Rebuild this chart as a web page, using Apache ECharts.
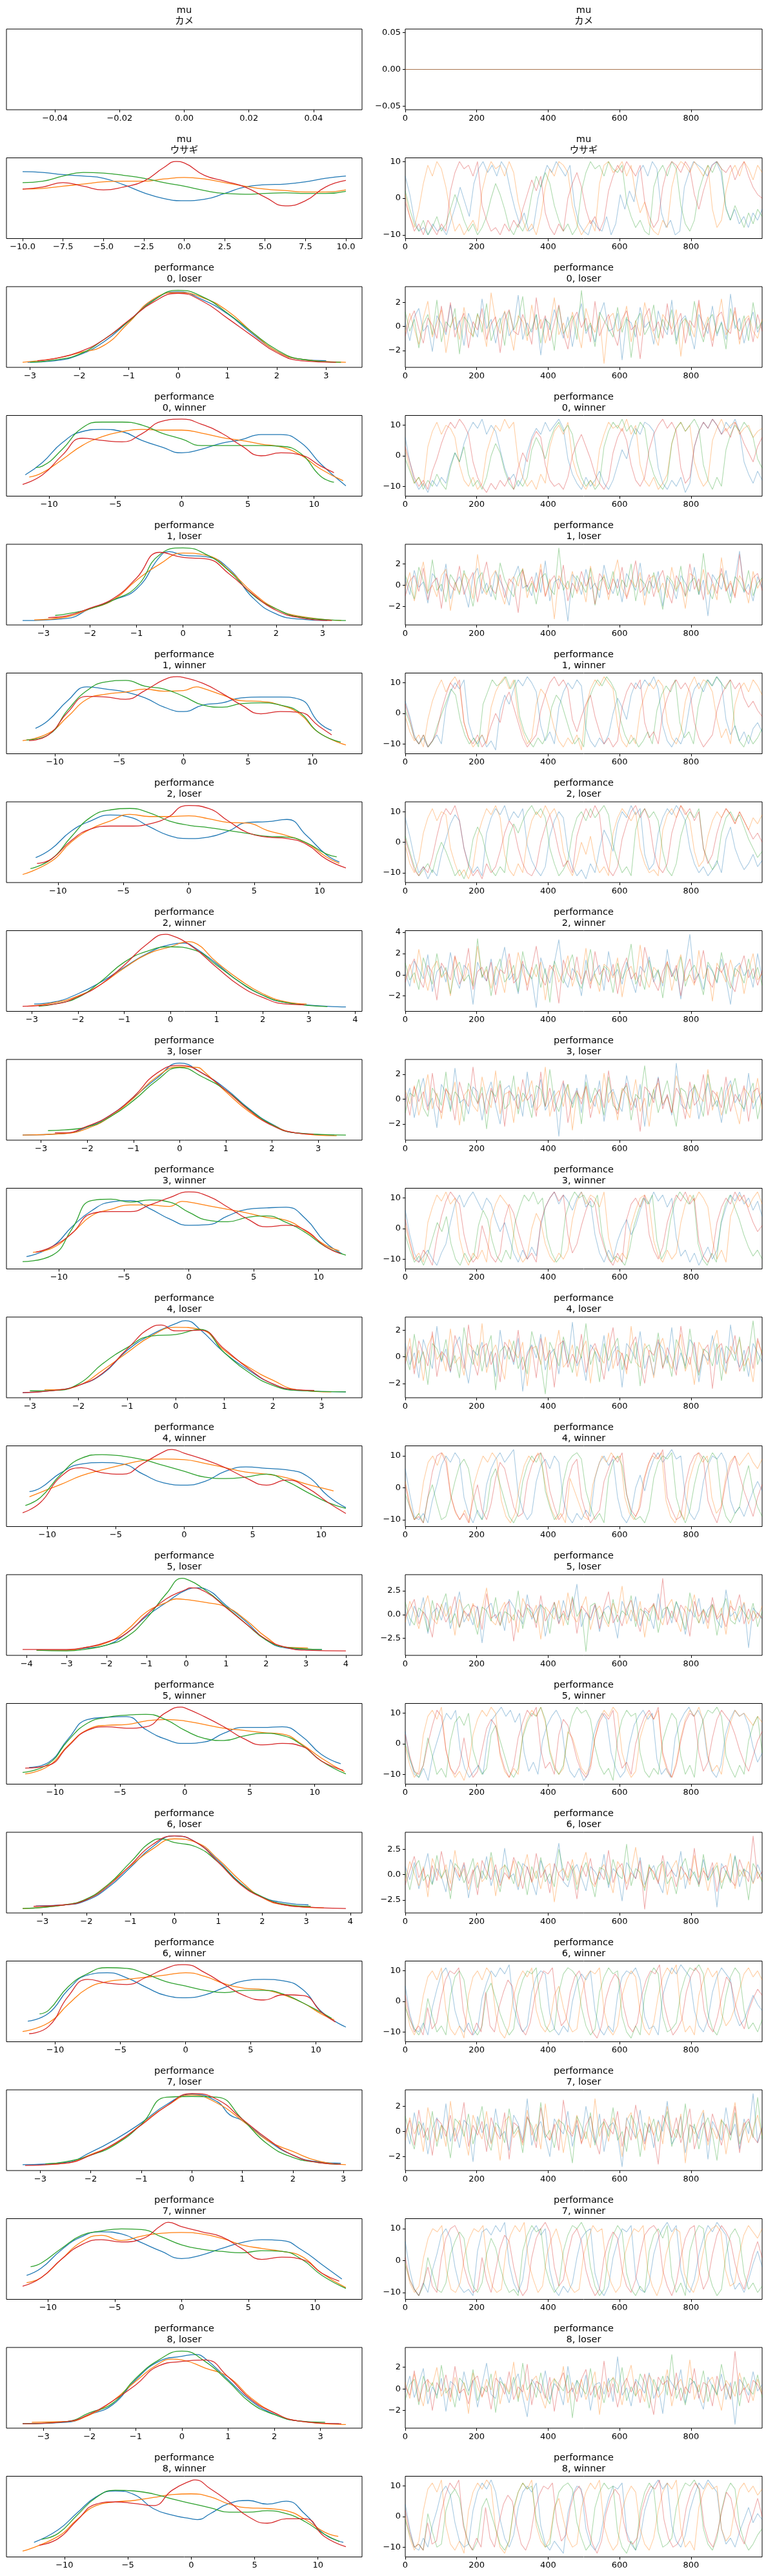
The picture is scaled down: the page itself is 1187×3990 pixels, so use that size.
<!DOCTYPE html>
<html>
<head>
<meta charset="utf-8">
<script src="https://cdn.jsdelivr.net/npm/echarts@6.0.0/dist/echarts.min.js"></script>
<style>body{margin:0;background:#fff;}</style>
</head>
<body>
<div id="main" style="width:1187px;height:3990px;"></div>
<script>
// ---------- row titles and tick labels ----------
var rowTitles = [
    ['mu', 'カメ'], ['mu', 'ウサギ'],
    ['performance', '0, loser'], ['performance', '0, winner'],
    ['performance', '1, loser'], ['performance', '1, winner'],
    ['performance', '2, loser'], ['performance', '2, winner'],
    ['performance', '3, loser'], ['performance', '3, winner'],
    ['performance', '4, loser'], ['performance', '4, winner'],
    ['performance', '5, loser'], ['performance', '5, winner'],
    ['performance', '6, loser'], ['performance', '6, winner'],
    ['performance', '7, loser'], ['performance', '7, winner'],
    ['performance', '8, loser'], ['performance', '8, winner']
];
var ticksN3 = [-3, -2, -1, 0, 1, 2, 3];
var ticksN10 = [-10, -5, 0, 5, 10];
var kdeTicks = [
    [-0.04, -0.02, 0, 0.02, 0.04], [-10, -7.5, -5, -2.5, 0, 2.5, 5, 7.5, 10],
    ticksN3, ticksN10, ticksN3, ticksN10, ticksN10, [-3, -2, -1, 0, 1, 2, 3, 4],
    ticksN3, ticksN10, ticksN3, ticksN10, [-4, -3, -2, -1, 0, 1, 2, 3, 4], ticksN10,
    [-3, -2, -1, 0, 1, 2, 3, 4], ticksN10, ticksN3, ticksN10, ticksN3, ticksN10
];
var kdeTickDigits = [2, 1, 0, 0, 0, 0, 0, 0, 0, 0, 0, 0, 0, 0, 0, 0, 0, 0, 0, 0];
var traceXTicks = [0, 200, 400, 600, 800];
var traceYTicks = [
    [-0.05, 0, 0.05], [-10, 0, 10], [-2, 0, 2], [-10, 0, 10], [-2, 0, 2], [-10, 0, 10],
    [-10, 0, 10], [-2, 0, 2, 4], [-2, 0, 2], [-10, 0, 10], [-2, 0, 2], [-10, 0, 10],
    [-2.5, 0, 2.5], [-10, 0, 10], [-2.5, 0, 2.5], [-10, 0, 10], [-2, 0, 2], [-10, 0, 10],
    [-2, 0, 2], [-10, 0, 10]
];
var traceYDigits = [2, 0, 0, 0, 0, 0, 0, 0, 0, 0, 0, 0, 1, 0, 1, 0, 0, 0, 0, 0];

// ---------- KDE curves: per chain [x, height, x, height, ...] (height relative, y axis unlabeled) ----------
var kdeMuUsagi = [
    [-10,.87,-8.75,.86,-7.5,.83,-6.25,.81,-5,.78,-3.75,.69,-2.5,.58,-1.25,.50,0,.47,1.25,.49,2.5,.57,3.75,.66,5,.69,6.25,.70,7.5,.73,8.75,.78,10,.81],
    [-10,.63,-8.75,.64,-7.5,.67,-6.25,.70,-5,.73,-3.75,.74,-2.5,.74,-1.25,.77,0,.79,1.25,.77,2.5,.72,3.75,.67,5,.63,6.25,.61,7.5,.59,8.75,.59,10,.62],
    [-10,.72,-8.75,.74,-7.5,.81,-6.25,.86,-5,.85,-3.75,.82,-2.5,.78,-1.25,.72,0,.67,1.25,.61,2.5,.57,3.75,.56,5,.57,6.25,.58,7.5,.57,8.75,.57,10,.60],
    [-10,.63,-8.75,.66,-7.5,.72,-6.25,.67,-5,.62,-3.75,.66,-2.5,.74,-1.25,.93,-.5,1.01,0,.99,1.25,.82,2.5,.74,3.75,.66,5,.52,6.25,.40,7.5,.47,8.75,.66,10,.75]
];
var kdeP0Loser = [
    [-3.05,.02,-2.5,.04,-2,.12,-1.5,.30,-1,.58,-.5,.87,0,.98,.5,.87,1,.68,1.5,.41,2,.17,2.5,.06,3.0,.04],
    [-3.15,.02,-2.5,.07,-2,.15,-1.5,.25,-1,.56,-.5,.88,0,.97,.5,.90,1,.72,1.5,.43,2,.17,2.5,.06,3.4,.02],
    [-3.0,.02,-2.5,.05,-2,.13,-1.5,.33,-1,.58,-.5,.86,0,1.0,.5,.91,1,.69,1.5,.43,2,.19,2.5,.06,3.3,.02],
    [-2.85,.04,-2.5,.07,-2,.16,-1.5,.33,-1,.59,-.5,.84,0,.96,.5,.85,1,.62,1.5,.38,2,.15,2.5,.04,3.2,.02]
];
var kdeP0Winner = [
    [-11.8,.24,-10.5,.41,-9,.68,-7.5,.83,-6,.86,-4.5,.83,-3,.71,-1.5,.62,0,.54,1.5,.59,3,.67,4.5,.72,6,.79,7.5,.79,9,.68,10.5,.39,12.4,.09],
    [-11.5,.21,-10.5,.27,-9,.45,-7.5,.64,-6,.76,-4.5,.83,-3,.86,-1.5,.85,0,.85,1.5,.81,3,.75,4.5,.71,6,.66,7.5,.62,9,.51,10.5,.32,12.2,.16],
    [-11,.34,-10.5,.36,-9,.59,-7.5,.88,-6,.96,-4.5,.96,-3,.92,-1.5,.81,0,.73,1.5,.64,3,.64,4.5,.64,6,.64,7.5,.63,9,.53,10.5,.22,11.5,.14],
    [-12,.11,-10.5,.24,-9,.51,-7.5,.74,-6,.71,-4.5,.69,-3,.80,-1.5,.97,0,1.0,1.5,.93,3,.81,4.5,.64,6,.50,7.5,.54,9,.51,10.5,.36,11.5,.27]
];
var kdeP1Loser = [
    [-3.45,.01,-2.5,.04,-2,.17,-1.5,.29,-1,.44,-.5,.88,-.3,.95,0,.90,.5,.88,1,.71,1.5,.32,2,.10,2.5,.03,3.1,.01],
    [-3.2,.02,-2.5,.06,-2,.17,-1.5,.29,-1,.56,-.5,.78,0,.93,.5,.90,1,.69,1.5,.39,2,.17,2.5,.07,3.4,.01],
    [-2.75,.08,-2.5,.10,-2,.17,-1.5,.29,-1,.47,-.5,.91,0,1.0,.5,.91,1,.68,1.5,.36,2,.17,2.5,.06,3.5,.01],
    [-2.9,.05,-2.5,.075,-2,.18,-1.5,.31,-1,.59,-.5,.94,0,.87,.5,.85,1,.64,1.5,.37,2,.15,2.5,.05,3.2,.01]
];
var kdeP1Winner = [
    [-11.5,.30,-10.5,.41,-9,.68,-7.5,.87,-6,.84,-4.5,.80,-3,.72,-1.5,.59,0,.53,1.5,.62,3,.65,4.5,.72,6,.73,7.5,.73,9,.70,10.5,.38,11.5,.27],
    [-12.5,.13,-10.5,.23,-9,.46,-7.5,.70,-6,.77,-4.5,.80,-3,.84,-1.5,.81,0,.82,1,.87,1.5,.85,3,.76,4.5,.68,6,.67,7.5,.62,9,.50,10.5,.24,12.6,.07],
    [-12.2,.14,-10.5,.21,-9,.55,-7.5,.82,-6,.94,-4.5,.96,-3,.88,-1.5,.84,0,.74,1.5,.62,3,.59,4.5,.64,6,.65,7.5,.62,9,.52,10.5,.24,12.2,.11],
    [-12,.13,-10.5,.21,-9,.52,-7.5,.74,-6,.73,-4.5,.70,-3,.82,-1.5,.97,-.5,1.01,0,1.0,1.5,.92,3,.78,4.5,.62,6,.50,7.5,.53,9,.52,10.5,.33,11.5,.21]
];
var kdeP2Loser = [
    [-11.7,.29,-10.5,.41,-9,.65,-7.5,.79,-6,.87,-4.5,.84,-3,.71,-1.5,.59,0,.55,1.5,.57,3,.65,4.5,.77,6,.78,7.5,.81,9,.59,10.5,.33,11.5,.23],
    [-12.7,.06,-10.5,.24,-9,.50,-7.5,.68,-6,.79,-4.5,.88,-3,.85,-1.5,.85,0,.86,1.5,.82,3,.77,4.5,.76,6,.66,7.5,.59,9,.49,10.5,.30,11.5,.21],
    [-12.1,.14,-10.5,.27,-9,.57,-7.5,.84,-6,.94,-4.5,.96,-3,.90,-1.5,.79,0,.73,1.5,.70,3,.66,4.5,.62,6,.58,7.5,.57,9,.49,10.5,.34,11.3,.30],
    [-11.6,.21,-10.5,.27,-9,.52,-7.5,.68,-6,.72,-4.5,.72,-3,.75,-1.5,.85,-.5,.99,0,1.0,1.5,.96,3,.79,4.5,.63,6,.57,7.5,.55,9,.47,10.5,.27,12,.15]
];
var kdeP2Winner = [
    [-2.95,.05,-2.5,.08,-2,.19,-1.5,.35,-1,.55,-.5,.74,0,.86,.3,.88,.5,.83,1,.60,1.5,.35,2,.17,2.5,.07,3.8,.01],
    [-3.1,.02,-2.5,.07,-2,.16,-1.5,.32,-1,.54,-.5,.73,0,.83,.4,.90,.5,.89,1,.62,1.5,.38,2,.19,2.5,.08,2.95,.05],
    [-2.85,.02,-2.5,.05,-2,.14,-1.5,.36,-1,.62,-.5,.77,0,.83,.5,.79,1,.58,1.5,.35,2,.17,2.5,.07,3.4,.015],
    [-3.2,.02,-2.5,.05,-2,.15,-1.5,.32,-1,.58,-.5,.87,-.1,1.0,0,.99,.5,.82,1,.55,1.5,.30,2,.14,2.5,.05,2.9,.04]
];
var kdeP3Loser = [
    [-3.4,.02,-2.5,.04,-2,.13,-1.5,.29,-1,.53,-.5,.79,0,1.0,.5,.86,1,.65,1.5,.38,2,.17,2.5,.05,3.35,.02],
    [-3.4,.02,-2.5,.04,-2,.11,-1.5,.27,-1,.52,-.5,.81,0,.95,.4,.94,.5,.90,1,.61,1.5,.34,2,.16,2.5,.05,3.4,.01],
    [-2.85,.08,-2.5,.09,-2,.13,-1.5,.27,-1,.49,-.5,.76,0,.94,.5,.81,1,.63,1.5,.37,2,.16,2.5,.05,3.6,.02],
    [-2.7,.05,-2.5,.05,-2,.14,-1.5,.29,-1,.54,-.5,.86,0,.97,.5,.86,1,.63,1.5,.36,2,.15,2.5,.05,2.9,.03]
];
var kdeP3Winner = [
    [-12.5,.12,-10.5,.26,-9,.53,-7.5,.75,-6,.87,-4.5,.89,-3,.78,-1.5,.64,0,.55,1.5,.56,3,.68,4.5,.77,6,.79,7.5,.80,9,.64,10.5,.32,11.8,.16],
    [-12,.18,-10.5,.24,-9,.44,-7.5,.68,-6,.77,-4.5,.83,-3,.83,-1.5,.81,-.5,.88,0,.87,1.5,.82,3,.77,4.5,.72,6,.66,7.5,.62,9,.47,10.5,.28,11.6,.20],
    [-12.8,.05,-10.5,.14,-9,.50,-7.5,.89,-6,.91,-4.5,.87,-3,.90,-1.5,.87,0,.73,1.5,.62,3,.60,4.5,.66,6,.68,7.5,.59,9,.45,10.5,.26,12.1,.14],
    [-11.8,.18,-10.5,.26,-9,.44,-7.5,.71,-6,.74,-4.5,.74,-3,.83,-1.5,.93,0,1.01,1.5,.95,3,.80,4.5,.64,6,.53,7.5,.55,9,.48,10.5,.26,11.7,.16]
];
var kdeP4Loser = [
    [-3.15,.02,-2.5,.05,-2,.12,-1.5,.28,-1,.60,-.5,.82,0,.97,.2,1.01,.5,.89,1,.57,1.5,.33,2,.14,2.5,.05,3.5,.03],
    [-2.7,.06,-2.5,.06,-2,.12,-1.5,.33,-1,.57,-.5,.80,0,.92,.5,.89,1,.60,1.5,.37,2,.19,2.5,.06,3.2,.03],
    [-3,.045,-2.5,.05,-2,.14,-1.5,.42,-1,.64,-.5,.80,0,.82,.5,.89,1,.57,1.5,.30,2,.12,2.5,.05,3.5,.03],
    [-3.15,.02,-2.5,.05,-2,.12,-1.5,.29,-1,.62,-.5,.92,-.3,.95,0,.87,.5,.88,1,.62,1.5,.35,2,.14,2.5,.06,2.85,.05]
];
var kdeP4Winner = [
    [-11.3,.43,-10.5,.48,-9,.69,-7.5,.81,-6,.83,-4.5,.81,-3,.67,-1.5,.55,0,.52,1.5,.57,3,.71,4.5,.77,6,.75,7.5,.73,9,.64,10.5,.37,11.8,.21],
    [-11.3,.36,-10.5,.42,-9,.53,-7.5,.65,-6,.73,-4.5,.80,-3,.86,-1.5,.88,0,.87,1.5,.82,3,.76,4.5,.70,6,.67,7.5,.62,9,.53,10.5,.46,10.9,.44],
    [-11.6,.24,-10.5,.35,-9,.67,-7.5,.89,-6,.94,-4.5,.92,-3,.87,-1.5,.79,0,.71,1.5,.63,3,.61,4.5,.63,6,.67,7.5,.57,9,.42,10.5,.28,11.8,.20],
    [-11.8,.14,-10.5,.28,-9,.64,-7.5,.76,-6,.69,-4.5,.67,-3,.82,-1.5,.98,-.9,1.01,0,.96,1.5,.87,3,.76,4.5,.62,6,.52,7.5,.59,9,.48,10.5,.28,11.8,.13]
];
var kdeP5Loser = [
    [-3.75,.02,-3,.02,-2.5,.05,-2,.09,-1.5,.25,-1,.48,-.5,.67,0,.84,.3,.87,.5,.85,1,.63,1.5,.41,2,.16,2.5,.05,3,.03,3.4,.03],
    [-3.75,.02,-3,.02,-2.5,.06,-2,.12,-1.5,.29,-1,.54,-.5,.67,-.25,.72,0,.71,.5,.67,1,.61,1.5,.43,2,.20,2.5,.06,3.05,.05],
    [-3.75,.02,-3,.01,-2.5,.035,-2,.09,-1.5,.20,-1,.45,-.5,.79,-.1,1.0,0,.99,.5,.83,1,.61,1.5,.38,2,.16,2.5,.06,3.4,.03],
    [-4.1,.03,-3,.03,-2.5,.06,-2,.13,-1.5,.25,-1,.50,-.5,.72,0,.85,.1,.87,.5,.81,1,.60,1.5,.38,2,.17,2.5,.06,3,.02,4,.01]
];
var kdeP5Winner = [
    [-12,.18,-10.5,.25,-9,.57,-7.5,.84,-6,.87,-4.5,.88,-3,.70,-1.5,.57,0,.51,1.5,.53,3,.65,4.5,.73,6,.73,7.5,.74,9,.61,10.5,.36,12,.23],
    [-12.3,.09,-10.5,.20,-9,.48,-7.5,.70,-6,.76,-4.5,.77,-3,.82,-1.5,.84,0,.82,1.5,.77,3,.72,4.5,.69,6,.66,7.5,.64,9,.50,10.5,.31,12.3,.12],
    [-12.5,.11,-10.5,.23,-9,.55,-7.5,.79,-6,.87,-4.5,.90,-3,.91,-1.5,.84,0,.69,1.5,.58,3,.55,4.5,.61,6,.65,7.5,.62,9,.49,10.5,.27,12.4,.09],
    [-12.3,.17,-10.5,.21,-9,.47,-7.5,.69,-6,.74,-4.5,.72,-3,.74,-1.5,.93,-.3,1.01,0,1.0,1.5,.88,3,.74,4.5,.58,6,.49,7.5,.51,9,.47,10.5,.27,12.2,.14]
];
var kdeP6Loser = [
    [-3.15,.045,-2.5,.06,-2,.12,-1.5,.30,-1,.57,-.5,.85,0,1.0,.5,.91,1,.66,1.5,.36,2,.17,2.5,.09,3.05,.06],
    [-3.45,.01,-2.5,.06,-2,.14,-1.5,.34,-1,.59,-.5,.82,0,.96,.5,.91,1,.68,1.5,.39,2,.16,2.5,.06,3.4,.02],
    [-3.45,.01,-2.5,.06,-2,.14,-1.5,.34,-1,.64,-.5,.93,-.3,.96,0,.91,.5,.85,1,.64,1.5,.35,2,.17,2.5,.07,3.1,.04],
    [-3.2,.04,-2.5,.06,-2,.13,-1.5,.32,-1,.60,-.5,.88,0,1.0,.5,.91,1,.64,1.5,.34,2,.16,2.5,.06,3,.03,3.9,.01]
];
var kdeP6Winner = [
    [-12.1,.23,-10.5,.34,-9,.66,-7.5,.86,-6,.89,-4.5,.82,-3,.69,-1.5,.58,0,.55,1.5,.59,3,.69,4.5,.78,6,.80,7.5,.78,9,.66,10.5,.35,12.3,.15],
    [-12.5,.09,-10.5,.21,-9,.46,-7.5,.68,-6,.77,-4.5,.80,-3,.83,-1.5,.86,0,.89,1.5,.84,3,.74,4.5,.68,6,.66,7.5,.59,9,.48,10.5,.32,11.4,.25],
    [-11.2,.33,-10.5,.38,-9,.70,-7.5,.88,-6,.96,-4.5,.95,-3,.87,-1.5,.77,0,.71,1.5,.65,3,.62,4.5,.65,6,.65,7.5,.60,9,.48,10.5,.34,11.2,.27],
    [-12,.06,-10.5,.16,-9,.57,-7.5,.80,-6,.75,-4.5,.73,-3,.83,-1.5,.95,-.3,1.0,0,1.0,1.5,.89,3,.73,4.5,.58,6,.52,7.5,.59,9,.58,10.5,.34,11.5,.22]
];
var kdeP7Loser = [
    [-3.35,.03,-2.5,.06,-2,.20,-1.5,.38,-1,.60,-.5,.85,0,.99,.5,.89,.75,.71,1,.63,1.5,.36,2,.16,2.5,.07,2.95,.05],
    [-2.85,.035,-2.5,.05,-2,.17,-1.5,.32,-1,.58,-.5,.83,0,.98,.5,.87,1,.63,1.5,.36,2,.21,2.5,.08,3.05,.03],
    [-2.9,.04,-2.5,.07,-2,.16,-1.5,.31,-1,.58,-.5,.95,0,.96,.5,.95,1,.65,1.5,.31,2,.13,2.5,.06,2.95,.035],
    [-3.3,.02,-2.5,.05,-2,.16,-1.5,.33,-1,.57,-.5,.83,0,1.0,.5,.92,1,.65,1.5,.38,2,.16,2.5,.06,2.95,.035]
];
var kdeP7Winner = [
    [-11.6,.28,-10.5,.38,-9,.63,-7.5,.81,-6,.88,-4.5,.85,-3,.73,-1.5,.61,0,.51,1.5,.56,3,.65,4.5,.73,6,.77,7.5,.76,9,.63,10.5,.43,12,.23],
    [-11.6,.18,-10.5,.25,-9,.50,-7.5,.74,-6,.83,-4.5,.76,-3,.82,-1.5,.86,0,.87,1.5,.85,3,.79,4.5,.70,6,.65,7.5,.61,9,.54,10.5,.31,12.3,.11],
    [-11.3,.40,-10.5,.45,-9,.65,-7.5,.83,-6,.89,-4.5,.92,-3,.91,-1.5,.81,0,.70,1.5,.64,3,.61,4.5,.59,6,.62,7.5,.61,9,.50,10.5,.28,12.3,.10],
    [-11.9,.13,-10.5,.25,-9,.50,-7.5,.70,-6,.77,-4.5,.74,-3,.78,-1.5,.97,-1,1.01,0,.95,1.5,.88,3,.81,4.5,.65,6,.50,7.5,.53,9,.50,10.5,.31,11.8,.20]
];
var kdeP8Loser = [
    [-3.45,.01,-2.5,.03,-2,.135,-1.5,.27,-1,.61,-.5,.86,0,.93,.3,.955,.5,.90,1,.61,1.5,.32,2,.14,2.5,.05,3.4,.01],
    [-3.25,.03,-2.5,.04,-2,.13,-1.5,.32,-1,.59,-.5,.83,-.2,.89,0,.88,.5,.77,1,.65,1.5,.36,2,.16,2.5,.05,3.55,.00],
    [-3.45,.01,-2.5,.04,-2,.16,-1.5,.29,-1,.63,-.5,.88,0,1.0,.5,.86,1,.59,1.5,.29,2,.135,2.5,.05,3.1,.03],
    [-3.45,.01,-2.5,.04,-2,.14,-1.5,.32,-1,.54,-.5,.80,0,.86,.5,.88,1,.65,1.5,.34,2,.16,2.5,.05,3.45,.01]
];
var kdeP8Winner = [
    [-12.4,.15,-10.5,.32,-9,.55,-7.5,.77,-6,.85,-4.5,.80,-3,.61,-1.5,.52,0,.47,.5,.46,1.5,.54,3,.68,4.5,.72,6,.67,7.5,.71,9,.53,10.5,.26,12,.15],
    [-13.3,.03,-10.5,.23,-9,.46,-7.5,.65,-6,.70,-4.5,.72,-3,.76,-1.5,.80,0,.81,1.5,.77,3,.67,4.5,.62,6,.61,7.5,.58,9,.46,10.5,.29,11.6,.23],
    [-11.8,.19,-10.5,.27,-9,.52,-7.5,.76,-6,.86,-4.5,.85,-3,.81,-1.5,.74,0,.68,1.5,.62,3,.56,4.5,.56,6,.58,7.5,.54,9,.43,10.5,.26,11.7,.16],
    [-12,.11,-10.5,.20,-9,.45,-7.5,.67,-6,.70,-4.5,.68,-3,.65,-1.5,.86,0,.99,.3,1.0,1.5,.88,3,.70,4.5,.50,6,.41,7.5,.47,9,.47,10.5,.23,12.2,.09]
];

// ---------- traces: per chain, values read at evenly spaced draws over 0..999 ----------
var traceMuKame = [[0, 0], [0, 0], [0, 0], [0, 0]];
var traceMuUsagi = [
    [6,1,-6,-9,-8,-10,-7,-9,-8,-10,-6,-2,3,-1,-5,4,8,10,7,9,6,10,8,2,-3,-7,-4,-9,-8,0,5,9,7,10,8,6,9,-2,-7,-9,-10,-6,-8,-9,-5,-10,-7,1,-3,2,-1,7,9,6,10,8,-4,-8,-6,-10,-9,3,7,10,9,8,6,9,10,7,-2,-6,-3,-7,-5,-8,-4,-6,-3],
    [1,-5,-8,-3,4,9,6,10,8,3,-4,-9,-7,-10,-8,-6,-9,2,7,10,8,9,6,10,7,-1,-6,-9,-7,-10,-5,3,8,6,10,9,7,-2,-7,-10,-8,-6,-9,4,9,10,7,8,10,6,9,1,-4,-1,-7,-9,-10,-6,-8,3,8,10,9,7,10,8,6,9,-3,-8,-6,2,7,9,6,10,8,5,9,7],
    [2,-3,-7,-9,-6,-10,-8,-5,-9,-7,-3,1,-2,-6,-9,-7,-10,-8,-5,0,4,1,-3,-8,-10,-7,-9,-6,1,6,3,7,4,-2,-6,-9,-7,-10,-8,2,7,10,8,9,6,10,8,7,9,-1,-5,-8,-6,-9,-10,3,7,9,6,10,8,-2,-7,-9,-6,2,6,9,7,10,8,-3,-6,-2,-5,-8,-4,-7,-3,-5],
    [-1,-5,-9,-7,-10,-6,-8,-10,-7,-9,2,7,10,8,9,6,10,-2,-6,-9,-8,-10,-7,-9,-6,-8,-3,1,5,2,6,-4,-8,-10,-7,-9,0,4,7,3,-3,-7,-5,-9,-6,2,6,9,7,10,8,6,9,-1,-5,-8,-6,3,8,10,9,7,10,8,1,-3,2,6,9,10,8,7,9,5,8,10,6,3,1,0]
];
var traceP0Loser = [
    [0.3,-1.2,0.8,1.5,-0.4,0.1,-2.1,0.9,0.2,-0.7,1.8,-0.3,0.5,-1.6,1.1,0.0,-0.9,2.3,-0.2,0.6,-1.4,0.4,1.2,-0.8,-0.1,2.6,-1.1,0.3,-0.5,1.0,-2.4,0.7,-0.3,1.4,0.2,-1.0,0.8,-1.7,0.5,1.9,-0.6,0.1,-1.3,0.9,2.0,-0.4,-0.2,1.1,-2.8,0.6,0.3,-0.9,1.6,-0.1,0.4,-1.5,1.3,0.0,-0.7,2.2,-1.2,0.5,0.9,-0.3,-1.9,1.0,0.2,-0.6,1.7,-0.8,0.4,-1.1,2.7,-0.2,0.7,-1.4,0.1,1.2,-0.5,0.3],
    [-0.5,1.1,-0.2,-1.5,0.7,2.1,-0.9,0.3,1.4,-2.2,0.0,0.8,-1.1,1.6,-0.4,-0.8,1.0,0.2,-1.7,2.8,0.5,-0.6,1.3,-0.1,-2.0,0.9,0.4,-1.2,1.8,-0.3,0.6,-1.4,0.1,2.4,-0.7,0.3,-1.0,1.2,-0.2,-1.8,1.5,0.2,-0.5,0.9,-3.1,0.7,1.1,-0.4,0.0,1.7,-1.3,0.5,-0.8,2.0,0.3,-0.6,-1.6,1.0,0.4,-0.2,1.4,-2.5,0.6,0.1,-0.9,1.9,-0.3,0.8,-1.2,0.2,2.3,-0.7,-0.1,1.3,-1.5,0.5,0.9,-0.4,-1.0,0.6],
    [1.2,-0.4,0.6,-1.8,0.2,1.0,-0.7,2.2,-1.3,0.4,-0.1,1.5,-2.3,0.8,0.3,-0.9,1.1,-0.5,1.9,-1.2,0.0,0.7,-1.6,1.3,-0.3,0.5,2.5,-0.8,-0.2,1.0,-1.4,0.6,0.2,-2.0,1.7,-0.6,0.1,0.9,-1.1,3.0,-0.4,0.3,-1.7,1.2,0.5,-0.2,-0.9,1.6,-0.5,0.8,-2.6,0.4,1.1,-0.7,0.0,1.8,-1.0,0.6,-0.3,1.4,-1.5,0.2,0.7,-0.8,2.1,-0.1,-1.3,0.5,1.0,-0.6,0.3,-1.9,1.5,0.1,-0.4,0.9,-1.2,2.0,-0.2,0.4],
    [-0.8,0.5,1.3,-0.2,-1.4,0.7,0.1,-1.0,1.7,-0.5,2.0,-0.9,0.3,1.1,-1.8,0.4,-0.3,1.5,-1.1,0.2,0.8,-2.2,0.6,1.4,-0.4,-0.7,1.0,0.0,-1.5,2.4,-0.2,0.9,-1.2,0.3,1.8,-0.6,-1.9,0.5,1.2,-0.1,0.7,-1.3,2.1,-0.8,0.2,1.0,-0.5,-1.6,0.6,1.3,-0.3,0.1,-2.7,0.8,1.5,-0.4,0.4,-1.0,1.9,-0.7,0.2,1.1,-1.4,0.5,-0.1,2.2,-0.9,0.3,-1.7,0.8,1.2,-0.2,-0.6,1.6,-1.1,0.0,0.7,-1.3,1.0,-0.4]
];
var traceP0Winner = [
    [6,-2,-8,-11,-9,-12,-8,-10,-7,-9,-3,1,-2,4,8,11,9,12,7,10,8,2,-4,-8,-6,-10,-7,1,6,9,7,11,8,10,12,9,-1,-6,-9,-11,-7,-10,-8,-5,-9,-11,-8,-3,2,-1,5,9,7,11,10,8,-4,-9,-11,-8,-10,-7,-12,-9,3,8,11,9,12,10,7,11,9,12,8,-2,-6,-9,-5,-8],
    [2,-4,-9,-7,-10,3,8,11,7,10,9,6,-3,-8,-10,-7,-11,-9,1,6,10,8,12,9,11,-2,-7,-10,-8,-11,-6,-9,3,8,10,7,11,-1,-6,-9,-11,-8,-10,2,7,11,9,10,8,12,7,10,-3,-8,-10,-7,-11,-9,-6,4,9,11,8,10,-2,-7,-10,-8,5,9,12,8,10,11,7,9,10,6,8,9],
    [-1,-5,-9,-7,-11,-8,-10,-6,-9,-11,-4,1,-2,3,-6,-10,-8,-11,-7,0,4,1,-5,-9,-11,-8,-10,-7,2,6,3,-1,5,9,11,8,10,7,-2,-7,-10,-8,-11,-9,3,8,11,9,12,8,10,7,11,9,-1,-6,-9,-11,-8,4,9,11,8,10,12,9,-3,-8,-11,-7,-10,2,7,10,8,11,9,6,-1,-4],
    [3,-2,-7,-10,-8,-11,-5,-1,4,8,11,9,12,10,7,-2,-7,-10,-12,-9,-11,-8,-10,-7,-11,-4,1,-2,5,8,6,-3,-8,-10,-9,-11,-7,0,4,7,3,-1,-6,-9,-11,-8,1,6,9,5,-3,-8,-10,-7,2,7,10,12,9,11,8,-4,-9,-7,3,8,11,9,12,10,7,9,6,11,8,4,1,-2,3,6]
];
var traceP1Loser = [
    [0.6,-0.9,1.4,-0.2,0.3,-1.7,1.1,0.5,-0.6,2.0,-1.3,0.1,0.8,-0.4,-2.1,0.9,1.6,-0.8,0.2,-1.1,1.3,0.4,-0.5,-1.9,0.7,1.8,-0.3,0.0,-1.0,1.2,-0.7,2.3,-1.5,0.3,0.6,-0.2,-3.4,1.0,0.5,-0.9,1.5,-0.4,0.2,-1.2,1.9,0.1,-0.8,0.6,-1.6,1.1,0.3,-0.5,2.1,-1.0,0.4,-0.3,1.3,-2.0,0.7,0.0,-1.3,0.9,0.2,-0.6,1.7,-0.9,0.5,-2.9,1.0,0.3,-0.4,1.4,-1.1,0.6,3.2,-0.7,0.1,-1.5,0.8,-0.2],
    [-0.3,1.2,-1.5,0.4,2.2,-0.6,0.0,-1.1,0.9,1.5,-2.4,0.3,-0.7,1.1,0.5,-1.3,2.9,-0.2,-0.9,0.7,1.4,-0.5,-1.8,0.2,0.8,-0.1,1.6,-1.2,0.4,-0.6,2.0,-1.0,0.6,-3.2,0.9,0.1,-0.4,1.3,-0.8,0.3,-1.6,1.8,0.0,-0.5,1.0,-1.4,0.7,2.4,-0.3,-1.1,0.5,-0.2,1.2,-1.9,0.6,0.9,-0.7,0.2,-1.2,1.7,-0.4,0.3,-2.2,1.1,0.8,-0.6,1.5,-0.9,0.1,-1.4,2.6,-0.5,0.4,-1.0,0.9,0.2,-1.7,1.3,-0.3,0.6],
    [0.9,-0.2,-1.3,1.7,0.4,-0.8,2.4,-0.5,0.1,-1.6,1.0,0.3,-0.9,1.4,-0.2,-2.0,0.6,1.2,-0.7,0.0,-1.4,2.1,0.5,-0.4,-1.1,0.8,1.5,-0.6,0.2,-1.8,0.7,1.1,-0.3,-0.9,3.5,-0.5,0.4,-1.2,0.9,0.1,-0.7,1.6,-1.9,0.3,0.8,-0.4,1.3,-1.0,0.5,-0.2,2.0,-1.5,0.6,0.1,-0.8,1.2,-0.3,-2.3,0.9,0.4,-0.6,1.8,-1.1,0.2,0.7,-0.9,3.0,-0.4,-1.3,0.5,1.1,-0.1,-1.7,0.8,0.3,-0.6,1.4,-1.0,0.2,0.7],
    [-1.0,0.4,0.9,-0.6,1.6,-1.4,0.2,0.7,-2.2,1.1,0.0,-0.5,1.8,-0.9,0.3,1.2,-1.6,0.5,2.2,-0.3,-0.8,1.0,-1.2,0.6,0.1,-2.6,1.4,-0.2,0.8,-0.7,1.5,-1.1,0.3,0.9,-0.4,1.9,-1.5,0.2,-0.6,1.3,-0.1,0.8,-1.8,1.1,0.4,-0.9,0.6,-0.3,1.7,-1.3,0.2,2.3,-0.7,-0.2,1.0,-1.1,0.5,1.4,-0.5,-1.7,0.9,0.1,-1.0,2.0,-0.4,0.6,-1.4,1.2,0.3,-0.8,1.6,-0.6,0.2,-1.2,2.9,-0.3,-0.9,0.7,1.1,-0.5]
];
var traceP1Winner = [
    [4,-1,-7,-10,-8,-11,-9,-7,-10,2,7,10,8,11,-3,-8,-10,-7,-11,-9,-12,1,6,3,8,11,9,12,10,7,-4,-9,-6,-10,2,7,10,8,11,9,-5,-9,-11,-8,-10,-7,0,5,2,-2,6,10,8,11,9,12,8,-4,-9,-11,-8,-10,-6,3,8,10,7,11,9,12,10,-2,-7,-4,-9,-6,-10,-5,-3,-6],
    [-1,-6,-9,-7,-11,-2,4,8,11,7,10,12,9,-3,-8,-11,-9,-7,-10,2,7,10,12,8,11,-1,-6,-10,-8,3,8,6,1,-5,-9,-11,-8,-10,-7,-12,2,8,11,9,12,10,8,-4,-9,-11,-7,-10,1,6,10,8,11,9,-3,-8,-10,-6,4,9,12,8,11,10,7,-2,-8,-5,-10,3,8,10,7,11,9,6],
    [1,-3,-8,-10,-7,-11,-9,-4,0,4,8,6,-2,-7,-10,-8,-11,3,7,11,9,10,12,8,11,-1,-6,-9,-11,-8,-10,-7,2,6,4,-1,-6,-10,-8,-11,4,8,11,9,12,10,7,-2,-7,-10,-8,-11,-9,-6,-10,1,6,9,7,11,-3,-8,-6,-10,2,8,11,9,12,10,8,11,-4,-9,-11,-7,-10,-8,-5],
    [3,-2,-8,-10,-7,-11,-9,-6,1,6,10,8,11,-3,-8,-10,-7,-11,-9,-4,0,-3,4,7,2,-3,-8,-11,-9,-7,1,6,10,12,9,11,8,-2,-6,-1,3,6,-1,-6,-10,-8,-11,-9,2,7,10,8,11,-3,-8,-6,-10,0,5,9,11,8,10,7,-3,-8,-11,-9,-7,1,6,9,11,8,10,5,2,4,1,-1]
];
var traceP2Loser = [
    [8,2,-5,-10,-8,-12,-9,-11,-4,1,6,9,7,-2,-7,-10,-8,-11,3,8,11,9,12,7,10,8,11,-1,-6,-9,-11,-8,2,7,10,8,-3,-8,-11,-9,-12,-7,-10,-2,4,1,-3,6,10,8,12,9,11,-4,-9,-7,3,8,11,9,12,10,7,-2,-7,-10,-8,-11,-9,-6,-10,1,5,-2,-6,-9,-7,-4,-8,-6],
    [-1,-7,-10,-6,3,8,11,7,10,9,-2,-7,-11,-9,-12,-8,2,7,11,9,12,8,-4,-9,-11,-7,-10,1,7,10,8,12,9,11,7,-3,-8,-11,-6,0,-4,2,-6,-10,-8,-11,3,8,11,9,7,10,-2,-7,-10,-9,-11,4,9,11,8,12,10,7,-3,-8,-6,2,7,10,8,11,9,6,10,7,4,8,6,9],
    [2,-3,-8,-11,-9,-7,-10,-4,0,-3,-7,-11,-9,-12,-8,1,5,2,-4,-9,-11,-8,-10,2,6,3,7,10,12,9,11,8,-2,-7,-11,-9,-6,3,8,10,7,11,8,10,12,9,-1,-6,-10,-8,-11,4,9,11,8,10,7,-3,-9,-11,-7,2,7,10,8,11,-2,-6,-9,-7,3,8,10,7,9,5,1,-2,-5,-3],
    [1,-4,-9,-11,-8,-10,-5,2,8,11,9,12,7,-2,-8,-11,-9,-12,-7,-10,-8,-3,3,7,5,-2,-7,-10,-11,-8,0,5,9,4,-3,-8,-6,-10,2,7,11,8,12,9,-4,-9,-11,-8,1,6,10,12,8,11,7,-3,-8,-10,-7,3,8,12,9,11,7,10,-2,-7,-4,3,8,11,9,6,10,7,4,1,3,0]
];
var traceP2Winner = [
    [0.2,-1.1,1.3,0.5,-0.4,1.9,-1.6,0.3,0.8,-0.7,2.1,-0.2,-1.3,0.9,0.4,-2.8,1.2,0.0,-0.6,1.5,-1.0,0.7,2.6,-0.5,0.1,-1.8,1.0,0.4,-0.3,-3.1,1.6,0.2,-0.8,1.1,3.3,-0.4,-1.2,0.6,0.0,-2.0,1.4,-0.6,0.3,0.9,-1.5,2.2,-0.1,0.5,-0.9,1.2,-0.3,-1.7,0.8,0.2,1.7,-0.7,0.4,-1.1,2.4,-0.2,0.6,-2.3,1.0,3.8,-0.5,0.1,-1.4,0.9,0.3,-0.8,1.5,-0.4,-2.8,0.7,1.1,-0.1,0.5,-1.2,2.0,-0.3],
    [-0.4,1.0,-0.8,2.4,0.1,-1.5,0.6,1.3,-0.3,0.2,-2.0,1.7,0.4,-0.6,1.1,-0.9,2.7,-0.2,0.5,-1.3,0.8,0.0,-1.7,1.4,-0.5,2.1,0.3,-1.0,0.7,-0.2,1.2,-2.4,0.5,0.9,-0.7,0.2,1.8,-1.1,0.4,-0.4,2.5,-0.9,0.1,-1.6,1.0,0.6,-0.3,1.6,-2.1,0.3,0.8,-0.5,2.8,-0.1,-1.2,0.7,0.2,-0.8,1.3,-1.5,0.5,1.9,-0.6,0.0,-1.0,2.3,-0.4,0.6,-2.5,1.1,0.3,-0.7,1.4,-0.2,0.9,-1.8,0.4,2.0,-0.5,0.1],
    [1.1,-0.5,0.2,-1.4,1.6,0.3,-0.9,2.0,-0.2,0.7,-1.8,0.5,1.2,-0.6,0.0,-1.1,3.4,-0.3,0.8,-2.0,0.4,1.5,-0.7,-0.1,0.9,-1.6,2.2,0.2,-0.4,1.0,-1.2,0.6,-2.6,1.3,0.1,-0.8,0.7,1.9,-0.5,-1.3,0.3,2.4,-0.2,-1.0,0.8,0.4,-1.7,1.1,-0.4,0.6,2.9,-0.9,0.0,-1.4,1.4,-0.3,0.5,-2.2,1.0,0.2,-0.6,1.7,-1.1,0.3,0.9,-0.2,-1.9,1.2,0.4,-0.7,2.1,-0.1,-1.3,0.6,0.2,-0.8,1.5,-0.4,0.7,-1.0],
    [-0.7,0.6,1.5,-0.3,-1.2,0.9,0.2,-2.4,1.1,0.4,-0.5,1.8,-0.9,0.0,2.5,-1.4,0.3,0.7,-0.6,1.2,-1.9,0.5,0.1,2.0,-0.8,-0.3,1.3,-1.5,0.6,2.7,-0.2,-1.0,0.9,0.3,-2.7,1.4,0.1,-0.5,1.7,-0.9,0.4,-1.3,2.2,0.0,0.6,-0.7,1.0,-1.8,0.5,1.6,-0.4,0.2,-1.1,2.6,0.8,-0.6,-1.5,0.3,1.2,-0.2,0.9,-2.0,0.4,1.5,-0.8,0.1,2.3,-0.5,-1.2,0.7,0.2,1.1,-0.9,-1.6,0.5,1.8,-0.3,0.6,-1.0,0.4]
];
var traceP3Loser = [
    [-0.2,0.9,-1.5,0.4,1.7,-0.6,0.1,-2.3,1.2,0.5,-0.8,2.5,-0.3,0.0,-1.2,1.0,0.6,-1.7,0.3,1.4,-0.5,-2.0,0.8,1.1,-0.1,0.4,-1.4,2.2,-0.7,0.2,1.6,-0.9,-0.2,0.7,-3.0,1.3,0.3,-0.4,0.9,-1.1,2.0,0.1,-0.6,1.5,-1.8,0.4,0.8,-0.3,-1.0,1.9,0.2,-0.7,1.2,-2.2,0.5,0.0,1.8,-0.5,0.3,-1.3,2.9,-0.4,-0.8,0.6,1.0,-1.6,0.2,1.3,-0.6,-0.1,-1.9,0.7,1.5,-0.3,0.4,-1.0,2.1,-0.8,0.1,0.6],
    [0.7,-0.4,1.1,-1.3,0.2,2.0,-0.8,0.5,-1.6,0.9,-0.1,1.4,-2.1,0.3,0.8,-0.5,-1.0,1.8,0.1,-0.7,2.3,-1.2,0.4,0.6,-1.9,1.0,-0.2,0.3,1.5,-0.9,-0.4,2.6,-1.4,0.2,0.7,-0.6,1.2,-2.5,0.5,0.0,1.0,-0.8,0.3,-1.2,2.1,-0.3,0.6,-1.7,0.9,0.4,-0.5,1.6,-1.0,0.1,-2.2,0.8,1.3,-0.4,0.2,-1.1,1.9,0.5,-0.7,-1.5,1.1,0.3,-0.2,2.4,-0.9,0.6,-1.3,0.0,1.2,-0.6,-2.0,0.9,0.4,-0.3,1.7,-0.8],
    [-1.1,0.5,0.2,1.6,-0.7,-1.4,0.9,0.3,-0.5,2.2,-1.0,0.6,0.1,-1.8,1.3,0.4,-0.3,1.0,-2.4,0.7,0.2,1.5,-0.8,-0.4,1.9,-1.2,0.5,0.0,-1.5,1.1,0.8,-0.6,2.4,-0.2,-1.0,0.3,1.2,-0.7,0.6,-2.0,1.4,-0.3,0.9,0.2,-1.3,1.8,-0.5,-0.9,0.7,1.1,-1.7,0.4,0.0,2.7,-0.6,0.8,-1.1,0.3,1.5,-0.4,-2.2,0.9,0.6,-0.8,1.2,-0.1,-1.4,2.0,0.3,-0.6,1.0,-1.2,0.5,1.7,-0.3,-0.8,0.4,1.3,-1.6,0.2],
    [0.4,-1.3,1.0,-0.2,0.6,-0.9,2.1,-0.5,-1.1,0.8,0.3,-1.7,1.4,0.1,-0.6,2.6,-0.4,0.5,-1.2,0.9,-0.3,1.2,-2.2,0.7,0.2,-0.8,1.6,-0.1,0.4,-1.4,2.2,-0.6,0.9,-1.0,0.3,1.5,-1.9,0.0,0.7,-0.4,1.1,-1.5,0.2,0.8,-0.7,2.3,-0.2,-1.2,0.5,1.3,-0.9,0.1,-2.6,1.0,0.6,-0.3,1.7,-0.8,0.4,-1.1,0.9,0.2,-1.6,1.4,-0.5,0.0,2.0,-1.3,0.7,0.3,-0.7,1.8,-1.0,0.4,-0.2,1.1,-1.8,0.6,0.9,-0.4]
];
var traceP3Winner = [
    [6,-2,-8,-11,-9,-7,-10,-12,-8,-5,2,8,11,7,10,12,9,6,10,8,3,-1,2,-3,-8,-11,-7,-10,-6,-9,1,7,10,12,8,11,9,6,10,12,7,9,-2,-8,-11,-7,-10,-4,0,3,-2,1,6,10,8,12,9,11,7,10,-3,-9,-7,-11,-8,-12,-9,-6,-10,-7,2,7,11,9,12,8,10,6,9,4],
    [1,-5,-10,-8,-11,2,7,11,9,12,8,10,-3,-9,-12,-8,-10,-7,-11,3,8,11,9,7,-2,-8,-11,-9,0,5,2,-5,-9,-11,-8,-10,-7,3,9,12,8,11,10,7,12,-3,-9,-11,-8,-10,1,6,10,11,8,-4,-9,-11,-7,-10,-8,2,8,11,9,12,10,7,-4,-10,-7,-11,4,8,11,9,7,10,12,8],
    [-2,-7,-11,-9,-12,-8,-3,2,-1,4,-5,-10,-12,-8,-11,-9,1,6,3,-4,-9,-11,-7,-10,2,7,11,9,12,8,10,-3,-8,-11,-9,4,9,12,10,11,8,7,11,-2,-8,-11,-9,-10,-12,-7,1,6,10,8,11,-4,-10,-7,3,9,12,10,8,11,-5,-10,-12,-8,-11,2,8,11,7,3,-2,-6,-9,-7,-10],
    [3,-4,-10,-11,-7,-9,-12,-3,4,9,12,10,8,-2,-8,-11,-9,1,-4,-9,-11,-8,3,8,5,-1,-6,-10,-8,-11,2,7,10,12,9,11,-2,-8,-5,1,6,10,8,-1,-6,-10,-12,-8,-11,3,8,10,7,11,-2,-7,-10,-6,2,7,11,9,12,8,10,-4,-9,-11,-8,2,7,10,8,12,9,11,6,2,-1,1]
];
var traceP4Loser = [
    [1.0,-0.6,0.3,-1.6,1.3,0.2,-0.9,2.3,-0.4,0.6,-1.2,0.8,1.5,-0.3,-2.0,0.5,0.1,1.1,-0.8,0.4,-1.5,2.0,-0.2,0.7,-0.6,1.4,-2.6,0.3,0.9,-0.1,1.7,-1.0,0.2,0.6,-1.3,1.2,-0.5,2.6,-0.7,0.0,-1.8,0.9,0.4,-0.4,1.6,-1.1,0.3,0.8,-2.3,1.0,0.5,-0.2,1.9,-0.9,0.1,-1.4,1.1,0.6,-0.5,2.2,-1.0,0.3,-0.7,1.3,0.8,-1.9,0.2,-0.3,1.6,-0.6,0.7,-1.2,2.4,0.1,-0.8,0.5,-1.5,1.0,0.3,-0.4],
    [-0.3,1.4,-0.9,0.5,-1.8,0.8,1.6,-0.2,0.3,-1.1,2.1,-0.5,0.0,-1.4,1.0,0.6,-0.7,2.5,-1.2,0.2,0.9,-0.4,-1.7,1.3,0.4,-0.1,1.1,-2.2,0.6,0.8,-0.6,1.5,-1.0,0.3,2.0,-0.8,-0.3,0.9,-1.5,0.4,1.2,-2.0,0.7,0.1,-0.5,1.8,-0.9,0.5,0.2,-1.3,2.3,-0.4,-0.8,1.0,0.3,-1.6,0.6,1.4,-0.2,-0.9,0.5,1.7,-1.1,0.0,-2.1,1.1,0.4,-0.6,0.9,2.0,-0.5,-1.3,0.8,0.2,1.3,-0.7,-0.1,-1.9,1.2,0.3],
    [0.2,-1.0,1.7,-0.5,0.4,-2.1,1.0,0.6,-0.3,1.3,-0.8,0.1,-1.6,2.2,0.3,-0.6,0.9,-1.1,0.5,1.6,-2.5,0.4,0.8,-0.2,1.2,-0.9,0.0,-1.3,1.9,0.6,-0.4,-2.8,1.1,0.3,-0.7,1.5,0.2,-1.2,0.8,-0.1,2.5,-0.6,0.4,-1.9,1.0,-0.3,0.7,1.4,-1.0,0.2,-0.5,1.1,-2.2,0.6,0.9,-0.4,1.8,-0.8,0.1,-1.5,1.3,0.5,-0.9,2.1,-0.2,-1.4,0.6,0.3,-0.7,1.0,-1.8,0.8,0.4,-0.3,1.5,-1.1,0.2,2.7,-0.6,0.5],
    [-0.5,0.8,-1.3,1.2,0.2,-0.7,1.9,-1.5,0.4,0.0,-1.1,1.6,0.5,-0.9,2.4,-0.2,-1.4,0.7,1.0,-0.6,0.3,-1.9,1.1,0.6,-0.4,2.0,-1.0,0.1,0.8,-1.6,1.4,-0.3,0.5,-2.3,0.9,1.2,-0.8,0.2,-0.5,1.7,-1.2,0.4,1.0,-0.1,-1.7,0.6,2.2,-0.7,0.3,-1.0,0.8,1.5,-0.4,-2.0,0.5,0.1,1.3,-0.9,0.7,-0.2,-1.4,2.3,0.2,-0.6,1.1,-1.2,0.4,0.9,-2.4,0.6,1.0,-0.5,0.2,1.6,-1.1,-0.3,0.8,-0.9,1.4,0.1]
];
var traceP4Winner = [
    [6,-2,-9,-10,-8,-11,-4,1,7,10,8,11,9,-3,-8,-11,-7,-10,1,6,9,11,8,10,12,-2,-7,-10,-8,2,7,9,6,10,8,-4,-9,-11,-8,-10,-7,-9,3,8,10,7,9,-3,-9,-11,-8,0,4,-1,5,9,11,8,10,12,9,10,-3,-8,-10,-7,2,7,10,9,11,8,-4,-8,-6,-9,-5,-1,2,-1],
    [2,-5,-10,-8,2,8,10,7,11,9,-3,-8,-10,-7,-11,1,6,10,8,11,9,-4,-9,-11,-8,1,7,10,8,11,6,-2,-7,-10,-8,-11,3,-1,-5,-9,-10,1,6,10,8,11,9,10,-3,-8,-10,-7,2,7,10,9,11,-4,-9,-11,-7,-10,2,7,11,8,10,-3,-8,-6,3,8,10,7,9,11,8,6,9],
    [-2,-6,-10,-8,-11,-3,1,-5,-10,-9,-4,2,7,9,6,-2,-8,-10,-7,3,6,1,-4,-9,-11,-8,2,7,10,8,11,-1,-6,-10,-8,2,8,10,11,9,-1,-6,-10,-8,-11,3,8,10,7,-2,-8,-10,-9,-11,-7,3,8,10,9,11,-3,-8,-11,-7,1,7,10,8,11,9,-4,-9,-11,-8,-6,2,7,-1,-6,-9],
    [1,-6,-10,-9,-11,-3,5,10,11,8,-2,-7,-10,-8,-11,-4,1,-7,-10,-5,3,8,6,0,-6,-9,-8,2,7,10,11,8,-1,-6,-10,-8,2,7,9,-3,-8,-11,-9,-7,2,6,10,8,11,-2,-7,-9,-6,3,8,11,9,12,-3,-7,-10,-9,1,7,10,11,9,-4,-8,-11,-6,2,7,10,4,-1,-5,-9,-3,1]
];
var traceP5Loser = [
    [0.5,-1.2,0.9,-0.3,1.8,-2.0,0.2,0.7,-0.6,1.3,-1.5,0.4,2.4,-0.8,0.1,-1.1,0.9,-3.0,0.6,1.2,-0.4,0.3,-1.7,1.6,0.8,-0.2,-1.0,2.1,-0.5,0.4,1.1,-2.3,0.0,0.7,-0.9,1.5,-0.3,0.6,3.2,-1.3,0.2,-0.6,1.0,-1.8,0.5,0.9,-0.1,-2.5,1.4,0.3,-0.7,1.9,-1.2,0.4,0.0,-1.5,2.2,-0.4,0.8,-0.9,1.3,0.2,-2.1,0.6,-0.3,1.7,-1.0,0.5,1.1,-0.6,-1.4,2.6,-0.2,0.3,-0.8,1.2,-3.5,0.7,0.1,-0.5],
    [-0.8,1.4,0.2,-1.5,0.6,2.0,-0.4,-1.0,1.1,-0.2,0.9,-2.2,1.6,0.3,-0.7,1.2,-1.4,0.5,2.8,-0.6,-1.1,0.4,1.3,-0.9,0.0,-1.9,1.7,0.6,-0.3,1.0,-2.6,0.8,0.2,-0.5,1.5,-1.2,2.3,-0.1,-0.8,0.7,1.9,-1.6,0.3,0.9,-0.4,-1.3,1.2,0.1,3.0,-1.0,0.5,-0.7,1.4,-2.4,0.6,1.0,-0.2,-1.1,0.8,1.6,-0.5,-1.8,0.9,0.3,2.1,-0.9,0.4,-1.5,1.1,-0.3,0.7,-2.1,1.5,-0.6,0.2,1.3,-1.0,0.4,-0.4,0.9],
    [1.3,-0.4,-1.1,0.7,0.2,-1.8,1.5,-0.6,0.9,2.2,-0.9,0.1,-1.4,0.6,1.1,-0.3,-2.1,0.8,0.4,-0.7,1.8,-1.2,0.3,0.0,-0.6,2.5,-1.5,0.7,0.2,-0.9,1.0,0.5,-2.0,1.3,-0.4,0.1,-1.1,1.9,-0.2,0.6,-3.9,0.9,1.2,-0.5,0.3,-1.0,1.6,-0.8,0.4,-0.1,2.0,-1.3,0.6,0.2,-0.7,1.1,-1.9,0.5,0.8,-0.4,1.4,-0.2,-1.6,2.3,0.1,-0.9,0.6,-0.3,1.0,-2.2,0.4,1.7,-0.6,-1.0,0.9,0.2,-0.5,1.2,-1.3,0.3],
    [-0.3,0.6,1.6,-1.0,0.3,-0.5,-2.4,1.2,0.5,-0.8,0.1,1.9,-1.3,0.4,-0.2,1.0,0.7,-1.6,2.2,-0.4,0.0,-1.1,0.8,1.4,-2.8,0.5,-0.3,1.1,0.6,-1.4,2.0,-0.7,0.2,1.3,-1.0,0.4,-0.6,1.7,-2.0,0.9,0.3,-0.4,1.1,-1.5,0.8,2.4,-0.9,0.0,-1.2,0.6,1.5,-0.3,-1.8,0.7,0.2,1.2,-0.6,3.8,-1.1,0.4,-0.8,1.0,0.3,-2.3,1.4,-0.2,0.5,-0.9,1.8,-0.5,0.1,-1.3,0.9,0.4,2.1,-1.0,0.6,-0.7,0.2,-0.4]
];
var traceP5Winner = [
    [4,-5,-10,-11,-8,-12,-4,1,6,10,8,11,-2,-8,-11,-9,-7,-10,2,8,10,12,9,11,7,10,-3,-9,-6,-10,1,6,9,11,8,-4,-9,-11,-8,-12,-10,2,7,10,8,-3,-8,-11,-9,0,6,9,11,8,10,-5,-10,-8,-11,2,7,10,12,9,11,8,-4,-9,-11,-7,3,8,11,9,10,6,-1,-6,-3],
    [-1,-7,-11,-9,3,9,11,8,12,-2,-8,-11,-9,-12,-7,3,8,11,9,12,10,-4,-9,-11,-8,-10,3,8,11,9,12,7,-2,-7,-10,-8,4,2,-3,-8,-10,-7,2,8,11,9,12,10,-3,-8,-11,-9,2,7,10,8,11,-4,-9,-11,-6,2,8,11,9,12,7,-4,-9,-7,-10,1,7,11,9,10,8,6,9,7],
    [0,-5,-9,-11,-7,2,-4,-10,-8,-11,1,7,9,6,10,-2,-7,-10,-8,3,6,1,-4,-9,-11,-8,2,7,10,9,12,8,-3,-8,-10,-7,3,9,12,10,11,8,-1,-7,-10,-8,-12,2,8,11,9,10,-3,-9,-11,-8,-10,1,6,10,8,-4,-10,-7,-11,3,8,11,10,12,9,-4,-8,-11,-7,-10,1,6,9,-3],
    [3,-4,-9,-10,-7,0,6,11,9,-2,-8,-10,-7,2,-7,-11,-9,-2,5,8,6,-3,-8,-11,-7,2,7,11,9,12,-2,-8,-6,-10,3,8,6,1,-5,-9,-11,-8,2,7,10,8,11,-2,-8,-6,-10,0,5,9,11,8,12,-3,-8,-11,-7,1,7,10,9,-3,-9,-6,2,8,11,9,7,3,-2,-6,-9,-4,1,4]
];
var traceP6Loser = [
    [0.8,-0.5,1.2,-1.4,0.3,2.1,-0.9,0.6,-0.2,-1.7,1.5,0.4,-0.6,1.0,-2.3,0.2,0.9,-0.4,1.8,-1.1,0.5,-0.8,2.6,-0.3,0.1,-1.5,1.1,0.7,-0.6,-2.0,1.4,0.2,-0.9,0.6,3.1,-0.7,-1.2,0.4,1.0,-0.3,-1.6,0.8,0.3,-0.5,2.0,-1.3,0.6,0.1,-2.6,1.2,0.5,-0.4,1.7,-1.0,0.2,0.9,-0.7,-1.8,1.3,0.4,-0.2,2.3,-1.4,0.6,0.0,-0.9,1.5,-0.5,0.7,-3.2,1.1,0.3,-0.6,1.9,-1.2,0.5,0.2,-0.8,1.0,-0.1],
    [-0.6,1.3,0.1,-1.1,0.8,-2.2,1.6,0.3,-0.4,1.0,-0.9,2.4,-0.3,0.6,-1.5,0.2,1.2,-0.7,-0.1,1.7,-2.1,0.5,0.9,-0.5,1.4,-1.2,0.3,2.0,-0.8,0.4,-1.4,0.7,1.1,-2.7,0.2,0.6,-0.3,1.5,-1.0,0.8,2.2,-0.6,-1.2,0.4,1.0,-0.2,-1.8,1.3,0.5,-0.9,0.3,2.7,-0.4,-1.3,0.8,0.1,-0.7,1.1,-2.0,0.6,1.4,-0.5,0.2,-1.0,1.9,-0.3,0.7,-1.6,0.4,1.2,-0.8,0.0,2.1,-1.4,0.5,-0.2,1.3,-0.9,0.3,-0.5],
    [0.3,-1.5,0.7,1.4,-0.6,0.0,-1.0,1.9,-0.3,0.5,-2.4,1.1,0.6,-0.8,0.2,1.6,-1.3,0.4,-0.5,2.2,-0.1,-1.7,1.0,0.3,-0.9,1.3,0.5,-2.0,0.8,-0.4,1.7,-0.7,0.1,-1.2,2.5,0.4,-0.6,0.9,-1.5,0.2,1.2,-0.3,-2.2,0.7,0.5,-1.0,1.5,0.0,-0.4,3.0,-1.1,0.6,0.2,-1.6,1.0,-0.5,0.8,1.3,-0.9,-0.2,-1.9,0.7,1.6,-0.4,0.3,-1.2,2.0,-0.6,0.1,0.9,-1.4,0.4,-0.8,1.8,-0.2,0.6,-2.5,1.1,0.3,-0.7],
    [-1.0,0.4,1.8,-0.3,0.6,-1.3,0.9,-0.6,2.3,0.1,-1.6,0.7,-0.2,1.2,-0.9,0.5,-2.0,1.4,0.3,-0.5,1.0,-1.1,0.2,-0.4,1.7,0.6,-1.4,0.8,-0.7,2.1,-0.3,0.5,-1.8,1.1,0.0,-0.6,1.3,0.4,-2.4,0.9,-0.2,1.6,-1.0,0.3,-0.5,2.4,-0.8,0.6,1.1,-1.5,0.2,-0.4,1.4,-3.4,0.7,0.3,-0.9,1.9,-0.2,0.5,-1.2,0.8,0.1,-0.6,2.6,-1.0,0.4,-0.3,1.2,-1.7,0.6,0.9,-0.5,-1.1,1.5,0.2,-0.7,3.8,-0.4,0.3]
];
var traceP6Winner = [
    [5,-4,-9,-10,-7,-11,-2,4,9,11,7,-3,-8,-10,-7,-11,-9,1,6,10,8,11,9,12,-2,-7,-10,-8,3,8,10,9,-4,-9,-11,-8,-10,0,6,9,7,10,-3,-9,-11,-8,-10,2,8,10,9,11,7,-5,-9,-8,-11,2,7,11,9,12,10,8,-3,-8,-10,-6,3,8,11,9,7,-4,-8,-6,-2,2,-1,-3],
    [0,-8,-11,-7,2,8,10,7,11,-3,-9,-11,-8,-12,2,8,10,7,11,9,-4,-10,-12,-8,2,7,10,8,11,-3,-8,-10,-7,2,5,-2,-7,-10,-9,2,8,10,9,11,-3,-9,-11,-8,2,7,10,8,-4,-9,-11,-7,2,8,11,9,12,-4,-10,-8,-11,2,7,11,8,10,-4,-8,-6,-2,4,9,11,8,10,7],
    [-2,-6,-9,-11,-8,1,-5,-10,-8,-11,2,8,10,7,-3,-9,-11,-8,3,6,1,-4,-8,-11,-9,2,7,10,9,11,-2,-8,-10,-9,3,9,11,10,8,-2,-8,-11,-9,3,8,11,9,10,-5,-10,-12,-8,-11,2,8,11,9,-5,-10,-9,-7,3,8,11,10,12,9,-4,-9,-11,-7,2,8,11,9,-3,-9,-7,-10,-6],
    [2,-5,-10,-8,-11,-2,-9,-7,1,7,10,9,11,-3,-9,-11,-7,-10,3,-8,-10,-2,3,7,5,-3,-9,-11,-7,1,6,10,9,11,-2,-8,-6,3,8,10,6,-4,-10,-12,-8,1,6,9,7,-2,-8,-10,-7,2,7,10,9,12,-1,-7,-11,-9,-6,3,8,11,9,-3,-8,-10,-5,2,8,6,-1,-6,-9,-3,1,4,2]
];
var traceP7Loser = [
    [0.4,-1.0,1.5,-0.3,0.7,-1.8,0.2,1.1,-0.6,2.2,-0.8,0.3,-1.3,0.9,0.5,-2.4,1.2,-0.1,0.6,-0.9,1.8,-0.4,0.0,-1.5,1.3,0.6,-0.7,2.6,-1.1,0.2,0.8,-0.5,-2.0,1.0,0.3,-0.2,1.6,-1.2,0.5,-0.6,2.0,0.1,-0.9,1.4,-1.6,0.4,0.7,-0.3,-2.8,1.1,0.2,-0.5,1.7,-0.8,0.6,-1.3,0.9,0.0,2.4,-1.0,-0.4,1.2,-1.7,0.5,0.3,-0.6,1.5,-2.2,0.8,0.1,-0.7,1.9,-0.3,0.6,-1.4,1.0,-0.2,3.0,-0.9,0.4],
    [-0.7,1.1,-0.2,0.6,-1.6,1.9,0.3,-0.8,0.5,-1.2,2.4,-0.4,0.9,-0.1,-1.9,1.3,0.2,-0.6,1.6,-1.0,0.4,-2.3,0.8,1.2,-0.5,0.1,-1.1,1.7,-0.3,0.6,-1.4,2.2,-0.7,0.3,1.0,-1.7,0.5,-0.2,1.3,-0.9,0.0,-1.3,2.6,-0.4,0.7,-0.8,1.1,0.3,-2.0,0.9,1.5,-0.6,0.2,-1.5,1.2,-0.3,0.8,-1.0,2.0,0.1,-0.5,1.4,-2.5,0.6,-0.2,0.9,1.7,-1.1,0.3,-0.6,1.0,-1.8,0.4,2.3,-0.4,0.7,-0.9,0.2,1.3,-0.3],
    [1.2,-0.3,-1.4,0.8,0.2,-0.7,1.6,-1.2,0.5,0.0,-2.1,1.0,0.6,-0.4,1.4,-1.0,0.3,2.0,-0.6,-1.5,0.7,0.2,-0.9,1.8,-0.2,0.4,-1.7,1.1,0.5,-0.8,2.3,-0.5,0.1,-1.3,0.9,0.6,-0.3,-2.5,1.2,0.4,-0.6,1.5,-1.1,0.3,0.8,-0.4,1.9,-0.7,0.0,-1.6,1.3,0.5,-2.0,0.7,-0.1,1.0,-0.8,0.4,1.6,-1.2,0.2,-0.5,2.2,-0.9,0.6,-1.4,0.3,1.1,-0.2,-2.3,0.9,0.4,-0.7,1.5,-1.0,0.1,0.8,-0.5,2.7,-0.6],
    [-0.2,0.9,-1.1,1.7,-0.5,0.3,-1.9,1.0,0.6,-0.4,1.3,-0.8,0.2,2.3,-1.2,0.5,-0.3,0.8,-1.6,1.1,0.0,-0.6,1.5,-2.2,0.7,0.4,-0.9,1.2,0.2,-1.3,1.9,-0.2,-0.7,0.6,-1.5,2.5,0.1,-0.4,0.9,-1.0,0.5,1.2,-0.6,-1.8,1.0,0.3,-0.2,1.6,-1.2,0.4,-0.7,2.1,0.2,-1.0,0.6,-0.3,-2.6,1.3,0.5,-0.5,1.1,-0.9,0.3,1.8,-1.4,0.0,0.7,-0.8,1.4,0.2,-1.1,0.6,-0.3,2.0,-1.7,0.5,1.0,-0.4,-0.9,0.3]
];
var traceP7Winner = [
    [6,-3,-9,-11,-7,-10,-3,2,8,10,7,-2,-8,-10,-9,-11,3,9,10,8,11,9,12,-1,-7,-10,-6,4,9,11,8,10,-3,-9,-11,-8,-10,-7,1,7,9,10,-4,-9,-11,-8,1,6,10,9,11,-5,-9,-10,-7,2,7,10,12,9,11,-3,-8,-10,-6,2,7,11,9,12,10,8,-4,-9,-7,-10,-6,-1,3,-2],
    [-1,-7,-10,-8,1,7,10,9,11,-3,-9,-10,-7,2,7,10,9,11,-2,-8,-10,-9,3,8,11,9,12,-1,-6,-10,-8,2,7,10,5,-3,-8,-10,-9,2,7,11,9,10,-2,-7,-10,-8,2,7,10,9,11,-3,-8,-11,-7,2,7,10,9,-4,-8,-10,-6,2,8,10,11,9,-3,-8,-7,2,8,11,9,7,10],
    [-1,-6,-9,-11,-8,1,-4,-9,-10,-7,2,6,9,7,-3,-8,-10,-7,2,7,4,-2,-7,-10,-9,-11,3,8,11,9,10,-2,-7,-10,-8,3,8,11,10,12,9,-2,-8,-11,-9,2,8,11,9,-4,-9,-11,-8,-10,3,8,10,7,11,-5,-10,-7,-11,3,8,11,10,-3,-8,-11,-9,2,8,10,7,-4,-9,-7,-10,-8],
    [1,-6,-9,-11,-7,-2,-8,-10,1,7,10,11,8,-2,-7,-10,-9,1,-6,-10,-3,4,8,6,-2,-8,-11,-9,1,7,10,12,9,-2,-8,-6,2,8,10,6,-3,-8,-11,-9,1,6,9,7,-3,-8,-10,-6,2,8,10,11,9,-3,-8,-11,-7,1,7,10,11,-3,-9,-6,2,8,11,9,6,-1,-6,-9,-4,2,6,1]
];
var traceP8Loser = [
    [-0.3,1.2,-0.8,0.5,1.9,-1.4,0.2,-0.6,1.0,-2.1,0.7,0.3,-1.1,1.6,-0.2,0.8,-1.7,0.4,2.4,-0.5,-0.9,1.1,0.1,-1.3,0.6,1.4,-0.7,-2.6,0.9,0.2,-0.4,1.7,-1.0,0.5,0.0,-1.5,2.1,-0.3,0.8,-0.8,1.3,-2.0,0.4,0.6,-0.5,1.0,-1.2,3.0,-0.6,0.1,-1.6,0.9,0.3,-0.4,1.5,-0.9,0.2,-2.3,1.2,0.5,-0.1,1.8,-1.3,0.4,0.7,-0.7,-1.9,1.1,0.2,-0.5,1.4,-1.0,0.6,-3.3,0.9,0.3,-0.6,1.6,-0.2,0.4],
    [0.6,-0.9,1.4,-0.2,-1.6,0.8,0.3,2.0,-0.7,0.1,-1.2,1.1,-0.4,0.6,-2.3,1.5,0.2,-0.8,0.9,-0.1,1.7,-1.4,0.5,-0.3,2.5,-0.9,0.4,-1.1,0.7,1.2,-0.6,-1.8,0.3,1.0,-0.2,2.1,-1.3,0.6,-0.5,0.9,-1.0,0.2,1.6,-2.4,0.7,-0.3,1.1,0.4,-1.5,0.8,2.2,-0.6,0.0,-1.2,1.3,0.5,-0.8,-0.2,1.8,-1.6,0.3,0.9,-0.5,2.7,-1.0,0.4,-1.3,0.6,1.1,-0.4,-2.0,0.8,0.2,-0.7,1.5,-0.1,0.5,-1.1,0.9,-0.3],
    [-1.0,0.4,0.9,-1.5,1.2,-0.3,0.6,-0.9,2.2,-0.4,0.1,-1.7,1.0,0.5,-0.6,1.8,-1.1,0.2,-0.3,1.4,-2.2,0.7,0.3,-0.5,1.1,-1.2,2.4,-0.1,0.6,-0.8,1.5,-0.6,-1.4,0.9,0.4,-0.2,1.3,-2.7,0.8,0.1,-0.5,1.9,-0.8,0.3,-1.3,0.6,1.0,-0.4,2.0,-1.1,0.2,-0.7,1.4,0.5,-1.8,0.9,-0.2,1.2,-0.6,3.2,-0.9,0.1,-1.5,1.0,0.6,-0.3,1.7,-1.2,0.4,-0.6,2.3,0.2,-0.9,0.7,-1.6,1.1,0.0,-0.5,1.3,-0.8],
    [0.2,-0.6,1.7,-1.2,0.4,0.9,-2.0,0.6,-0.2,1.3,-0.8,2.1,-0.4,0.0,-1.4,0.8,1.2,-0.7,0.3,-1.9,1.0,0.5,-0.5,1.6,-1.0,0.2,-0.3,2.3,-1.5,0.7,0.4,-0.9,1.1,-2.1,0.6,1.5,-0.4,0.1,-1.2,0.9,1.8,-0.6,0.3,-1.0,2.6,-0.8,0.5,-1.7,0.2,1.0,-0.3,0.7,-1.3,1.4,-0.5,-2.4,1.1,0.4,0.8,-0.7,1.5,-1.1,0.2,-0.4,1.9,-0.9,0.6,0.3,-1.6,1.2,-0.2,0.5,-1.0,3.5,-0.6,0.1,-1.3,0.8,0.4,-0.5]
];
var traceP8Winner = [
    [4,-4,-10,-11,-7,-10,-3,2,8,10,7,-2,-8,-10,-9,2,8,11,9,12,8,-1,-7,-10,-6,3,8,10,8,11,-3,-9,-11,-8,-10,-12,1,7,10,9,-4,-9,-11,-8,0,6,10,9,11,-5,-9,-11,-7,2,7,10,12,9,11,-3,-8,-10,-6,2,7,11,9,12,10,8,-4,-9,-7,-10,-5,-1,3,-2,1,-1],
    [0,-7,-11,-8,2,9,11,8,12,-3,-9,-11,-8,-12,2,8,11,9,12,10,-4,-10,-12,-8,2,8,11,9,12,-3,-8,-10,-7,3,6,-1,-7,-10,-9,3,8,11,9,12,-3,-8,-11,-9,2,7,10,8,-4,-9,-11,-7,2,8,11,9,12,-4,-10,-8,-11,3,8,11,9,10,-4,-8,-6,3,9,11,8,10,7,9],
    [-1,-6,-10,-9,-11,1,-5,-10,-9,2,7,9,6,-3,-9,-11,-8,3,6,1,-4,-9,-11,-8,3,8,11,9,10,-1,-6,-10,-9,2,8,10,11,9,-2,-7,-11,-9,3,8,11,9,10,-5,-10,-12,-8,-11,2,8,11,9,-5,-10,-9,-7,3,8,11,10,12,9,-4,-9,-11,-7,2,8,11,9,-3,-8,-11,-9,-6,-4],
    [2,-5,-10,-9,-11,-2,-9,-8,1,7,11,9,12,-3,-8,-11,-7,-10,3,-7,-10,-2,4,7,5,-3,-9,-11,-7,2,7,10,9,11,-2,-8,-6,3,8,10,6,-4,-9,-12,-8,1,6,9,7,-2,-8,-9,-7,2,7,10,9,12,-1,-7,-10,-9,-6,3,8,11,9,-3,-8,-10,-5,2,8,6,-1,-6,-9,-3,1,6,0]
];

var kdeRows = [null, kdeMuUsagi, kdeP0Loser, kdeP0Winner, kdeP1Loser, kdeP1Winner, kdeP2Loser, kdeP2Winner,
    kdeP3Loser, kdeP3Winner, kdeP4Loser, kdeP4Winner, kdeP5Loser, kdeP5Winner, kdeP6Loser, kdeP6Winner,
    kdeP7Loser, kdeP7Winner, kdeP8Loser, kdeP8Winner];
var traceRows = [traceMuKame, traceMuUsagi, traceP0Loser, traceP0Winner, traceP1Loser, traceP1Winner, traceP2Loser, traceP2Winner,
    traceP3Loser, traceP3Winner, traceP4Loser, traceP4Winner, traceP5Loser, traceP5Winner, traceP6Loser, traceP6Winner,
    traceP7Loser, traceP7Winner, traceP8Loser, traceP8Winner];

// ---------- layout ----------
var chart = echarts.init(document.getElementById('main'));
var colors = ['#1f77b4', '#ff7f0e', '#2ca02c', '#d62728'];
var rowTop = 45, rowStep = 199.5, boxH = 125;
var leftX = 10, leftW = 551, rightX = 628, rightW = 553;
var font = '"DejaVu Sans", "Noto Sans CJK JP", sans-serif';

function fmt(v, d) {
    var s = Math.abs(v) < 1e-12 ? (0).toFixed(d) : v.toFixed(d);
    return s.replace('-', '\u2212');
}

function valueAxis(gi, min, max, ticks, digits) {
    return {
        gridIndex: gi, type: 'value', min: min, max: max,
        splitLine: {show: false},
        axisLine: {show: false, onZero: false},
        axisTick: {show: true, inside: false, length: 4, customValues: ticks,
            lineStyle: {color: '#000', width: 1}},
        axisLabel: {show: true, customValues: ticks, margin: 7, color: '#000',
            fontSize: 13, fontFamily: font,
            formatter: function (v) { return fmt(v, digits); }}
    };
}

var grids = [], xAxes = [], yAxes = [], series = [], graphics = [];

rowTitles.forEach(function (title, r) {
    var top = rowTop + rowStep * r;

    // left: density
    var gi = grids.length;
    grids.push({left: leftX, top: top, width: leftW, height: boxH, show: true,
        borderColor: '#000', borderWidth: 1, backgroundColor: 'transparent'});
    var kde = kdeRows[r];
    var xmin = -0.055, xmax = 0.055;
    if (kde) {
        var lo = Infinity, hi = -Infinity;
        kde.forEach(function (c) {
            lo = Math.min(lo, c[0]);
            hi = Math.max(hi, c[c.length - 2]);
        });
        var pad = (hi - lo) * 0.05;
        xmin = lo - pad;
        xmax = hi + pad;
    }
    var xa = valueAxis(gi, xmin, xmax, kdeTicks[r], kdeTickDigits[r]);
    xa.position = 'bottom';
    xAxes.push(xa);
    yAxes.push({gridIndex: gi, type: 'value', show: false,
        min: kde ? function (v) { return -0.05 * v.max; } : 0,
        max: kde ? function (v) { return 1.05 * v.max; } : 1});
    if (kde) {
        kde.forEach(function (c, k) {
            var pts = [];
            for (var i = 0; i < c.length; i += 2) pts.push([c[i], c[i + 1]]);
            series.push({type: 'line', xAxisIndex: gi, yAxisIndex: gi, data: pts,
                symbol: 'none', smooth: 0.5, silent: true,
                lineStyle: {color: colors[k], width: 1.3}, itemStyle: {color: colors[k]}});
        });
    }

    // right: trace
    var gj = grids.length;
    grids.push({left: rightX, top: top, width: rightW, height: boxH, show: true,
        borderColor: '#000', borderWidth: 1, backgroundColor: 'transparent'});
    var xb = valueAxis(gj, 0, 999, traceXTicks, 0);
    xb.position = 'bottom';
    xAxes.push(xb);
    var isFlat = r === 0;
    var yAx = valueAxis(gj,
        isFlat ? -0.055 : function (v) { return v.min - 0.05 * (v.max - v.min); },
        isFlat ? 0.055 : function (v) { return v.max + 0.05 * (v.max - v.min); },
        traceYTicks[r], traceYDigits[r]);
    yAx.position = 'left';
    yAxes.push(yAx);
    traceRows[r].forEach(function (vals, k) {
        var n = vals.length;
        var pts = vals.map(function (v, i) { return [i * 999 / (n - 1), v]; });
        series.push({type: 'line', xAxisIndex: gj, yAxisIndex: gj, data: pts,
            symbol: 'none', silent: true,
            lineStyle: {color: colors[k], width: 1.1, opacity: 0.38}, itemStyle: {color: colors[k]}});
    });

    // titles
    [leftX + leftW / 2, rightX + rightW / 2].forEach(function (cx) {
        graphics.push({type: 'text', x: cx, y: top - 37, silent: true,
            style: {text: title.join('\n'), align: 'center', textAlign: 'center',
                verticalAlign: 'top', textVerticalAlign: 'top',
                fontSize: 14.5, lineHeight: 17, fontFamily: font, fill: '#000'}});
    });
});

chart.setOption({
    animation: false,
    backgroundColor: '#fff',
    grid: grids,
    xAxis: xAxes,
    yAxis: yAxes,
    series: series,
    graphic: graphics
});
</script>
</body>
</html>
